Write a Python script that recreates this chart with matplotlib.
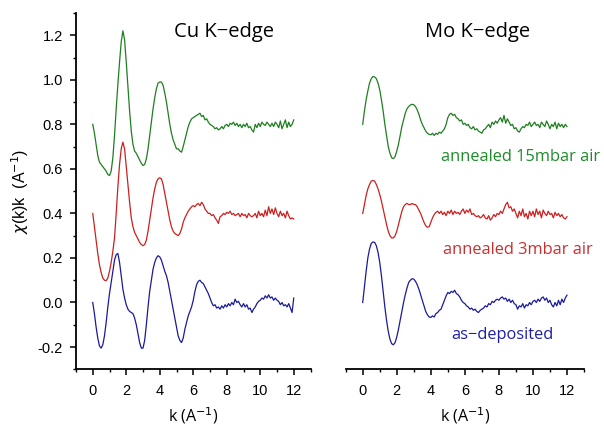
import numpy as np
import matplotlib
matplotlib.use("Agg")
import matplotlib.pyplot as plt
from matplotlib.ticker import MultipleLocator

# k grid (A^-1), 0..12 step 0.1
k = np.round(np.arange(0, 121) * 0.1, 1)

cu_15mbar = [
    0.80, 0.76, 0.71, 0.66, 0.63, 0.62, 0.61, 0.60, 0.59, 0.575,
    0.57, 0.59, 0.65, 0.75, 0.87, 0.98, 1.08, 1.17, 1.22, 1.18,
    1.08, 0.97, 0.86, 0.77, 0.71, 0.68, 0.67, 0.655, 0.64, 0.625,
    0.615, 0.62, 0.645, 0.69, 0.75, 0.81, 0.87, 0.92, 0.96, 0.985,
    0.99, 0.99, 0.975, 0.94, 0.90, 0.85, 0.80, 0.76, 0.73, 0.71,
    0.69, 0.69, 0.68, 0.675, 0.70, 0.73, 0.76, 0.79, 0.81, 0.825,
    0.83, 0.835, 0.84, 0.845, 0.85, 0.835, 0.84, 0.82, 0.825, 0.81,
    0.80, 0.795, 0.79, 0.78, 0.785, 0.775, 0.78, 0.79, 0.78, 0.795,
    0.80, 0.79, 0.805, 0.80, 0.81, 0.795, 0.805, 0.79, 0.80, 0.785,
    0.80, 0.79, 0.805, 0.785, 0.79, 0.775, 0.765, 0.80, 0.785, 0.805,
    0.79, 0.81, 0.80, 0.795, 0.81, 0.80, 0.79, 0.805, 0.79, 0.81,
    0.80, 0.785, 0.815, 0.78, 0.80, 0.82, 0.785, 0.81, 0.79, 0.80,
    0.82]

cu_3mbar = [
    0.40, 0.34, 0.28, 0.22, 0.17, 0.135, 0.11, 0.10, 0.098, 0.11,
    0.14, 0.18, 0.23, 0.29, 0.40, 0.52, 0.62, 0.69, 0.72, 0.69,
    0.61, 0.53, 0.45, 0.38, 0.34, 0.315, 0.30, 0.285, 0.27, 0.26,
    0.255, 0.26, 0.28, 0.32, 0.37, 0.42, 0.47, 0.51, 0.54, 0.555,
    0.56, 0.555, 0.53, 0.49, 0.45, 0.41, 0.37, 0.34, 0.32, 0.31,
    0.305, 0.30, 0.31, 0.33, 0.36, 0.38, 0.395, 0.41, 0.42, 0.43,
    0.435, 0.43, 0.44, 0.445, 0.435, 0.45, 0.44, 0.42, 0.41, 0.40,
    0.40, 0.39, 0.395, 0.38, 0.37, 0.355, 0.385, 0.39, 0.40, 0.395,
    0.405, 0.40, 0.41, 0.395, 0.40, 0.39, 0.395, 0.40, 0.385, 0.40,
    0.39, 0.395, 0.38, 0.40, 0.39, 0.385, 0.39, 0.40, 0.38, 0.41,
    0.39, 0.40, 0.385, 0.415, 0.39, 0.43, 0.40, 0.42, 0.395, 0.425,
    0.40, 0.385, 0.41, 0.39, 0.40, 0.38, 0.41, 0.39, 0.375, 0.38,
    0.375]

cu_asdep = [
    0.0, -0.05, -0.11, -0.16, -0.195, -0.205, -0.19, -0.15, -0.09, -0.02,
    0.04, 0.09, 0.14, 0.19, 0.215, 0.22, 0.18, 0.12, 0.06, 0.02,
    -0.01, -0.03, -0.04, -0.045, -0.05, -0.07, -0.10, -0.14, -0.18, -0.205,
    -0.205, -0.17, -0.10, -0.02, 0.05, 0.10, 0.15, 0.18, 0.20, 0.21,
    0.205, 0.19, 0.165, 0.14, 0.12, 0.09, 0.05, 0.01, -0.03, -0.07,
    -0.11, -0.15, -0.17, -0.18, -0.16, -0.12, -0.09, -0.06, -0.04, -0.02,
    0.01, 0.05, 0.08, 0.095, 0.10, 0.09, 0.085, 0.07, 0.055, 0.04,
    0.02, 0.0, -0.015, -0.01, -0.025, -0.02, -0.03, -0.015, -0.025, -0.01,
    -0.02, -0.005, -0.015, 0.0, -0.01, 0.015, 0.0, 0.005, -0.01, -0.02,
    -0.005, -0.02, -0.01, -0.03, -0.025, -0.045, -0.03, -0.02, -0.005, 0.005,
    0.01, 0.02, 0.015, 0.03, 0.02, 0.035, 0.02, 0.025, 0.01, 0.02,
    0.01, 0.005, -0.01, 0.0, -0.015, -0.01, -0.02, -0.005, -0.025, -0.045,
    0.02]

mo_15mbar = [
    0.80, 0.86, 0.91, 0.95, 0.985, 1.005, 1.015, 1.013, 1.005, 0.985,
    0.955, 0.91, 0.86, 0.80, 0.75, 0.70, 0.67, 0.65, 0.646, 0.655,
    0.68, 0.71, 0.75, 0.79, 0.82, 0.85, 0.87, 0.88, 0.887, 0.89,
    0.888, 0.88, 0.865, 0.845, 0.82, 0.80, 0.785, 0.77, 0.76, 0.755,
    0.753, 0.76, 0.75, 0.76, 0.755, 0.765, 0.76, 0.77, 0.78, 0.80,
    0.83, 0.845, 0.85, 0.84, 0.845, 0.83, 0.825, 0.815, 0.82, 0.80,
    0.805, 0.795, 0.80, 0.785, 0.78, 0.79, 0.775, 0.78, 0.77, 0.765,
    0.76, 0.775, 0.78, 0.79, 0.80, 0.785, 0.81, 0.80, 0.815, 0.805,
    0.82, 0.83, 0.81, 0.84, 0.805, 0.825, 0.81, 0.795, 0.80, 0.78,
    0.785, 0.77, 0.765, 0.78, 0.79, 0.785, 0.80, 0.795, 0.81, 0.79,
    0.80, 0.81, 0.795, 0.80, 0.785, 0.81, 0.80, 0.79, 0.815, 0.80,
    0.78, 0.80, 0.79, 0.81, 0.78, 0.805, 0.79, 0.80, 0.785, 0.80,
    0.79]

mo_3mbar = [
    0.40, 0.44, 0.48, 0.51, 0.53, 0.545, 0.548, 0.545, 0.53, 0.51,
    0.485, 0.455, 0.42, 0.385, 0.35, 0.32, 0.30, 0.29, 0.29, 0.30,
    0.32, 0.35, 0.38, 0.41, 0.43, 0.44, 0.445, 0.44, 0.44, 0.445,
    0.44, 0.44, 0.43, 0.415, 0.40, 0.38, 0.36, 0.345, 0.338, 0.34,
    0.36, 0.38, 0.395, 0.405, 0.41, 0.40, 0.41, 0.395, 0.405, 0.39,
    0.41, 0.40, 0.415, 0.395, 0.41, 0.40, 0.405, 0.395, 0.41, 0.42,
    0.40, 0.415, 0.405, 0.42, 0.395, 0.40, 0.39, 0.385, 0.39, 0.38,
    0.385, 0.395, 0.38, 0.375, 0.39, 0.37, 0.38, 0.395, 0.385, 0.40,
    0.395, 0.41, 0.40, 0.42, 0.44, 0.45, 0.425, 0.43, 0.41, 0.42,
    0.40, 0.38, 0.41, 0.39, 0.42, 0.385, 0.40, 0.375, 0.41, 0.39,
    0.41, 0.385, 0.42, 0.395, 0.41, 0.38, 0.415, 0.40, 0.39, 0.41,
    0.395, 0.40, 0.38, 0.405, 0.39, 0.40, 0.385, 0.395, 0.38, 0.375,
    0.385]

mo_asdep = [
    0.0, 0.07, 0.14, 0.20, 0.24, 0.265, 0.272, 0.27, 0.255, 0.225,
    0.18, 0.12, 0.05, -0.02, -0.08, -0.13, -0.165, -0.185, -0.19, -0.18,
    -0.155, -0.12, -0.08, -0.04, 0.0, 0.035, 0.065, 0.09, 0.10, 0.107,
    0.105, 0.095, 0.08, 0.06, 0.035, 0.01, -0.015, -0.04, -0.055, -0.065,
    -0.067, -0.06, -0.065, -0.05, -0.045, -0.035, -0.03, -0.01, 0.01, 0.03,
    0.045, 0.04, 0.05, 0.045, 0.055, 0.04, 0.035, 0.025, 0.01, 0.0,
    -0.005, -0.015, -0.02, -0.03, -0.025, -0.035, -0.03, -0.04, -0.045, -0.035,
    -0.03, -0.025, -0.015, -0.02, -0.005, -0.01, 0.005, 0.0, 0.01, 0.015,
    0.01, 0.02, 0.025, 0.015, 0.02, 0.005, 0.015, 0.0, 0.01, -0.005,
    -0.01, -0.03, -0.015, -0.02, -0.005, -0.025, -0.01, -0.015, 0.0, -0.01,
    0.005, 0.01, 0.0, 0.015, 0.005, 0.02, 0.025, 0.01, 0.02, 0.0,
    0.01, -0.01, -0.02, 0.0, -0.015, 0.01, -0.01, 0.015, 0.0, 0.02,
    0.033]

panel_titles = ["Cu K\u2212edge", "Mo K\u2212edge"]
series_labels = ["annealed 15mbar air", "annealed 3mbar air", "as\u2212deposited"]
colors = ["#1f7f1f", "#cc2020", "#1a1a9a"]
text_colors = ["#1e8a2a", "#c83030", "#2020a8"]

W, H = 604, 425
fig = plt.figure(figsize=(W / 100, H / 100), dpi=100)

ax1 = fig.add_axes([76 / W, 1 - 369.3 / H, 234.5 / W, 356.3 / H])
ax2 = fig.add_axes([345.7 / W, 1 - 369.3 / H, 238.3 / W, 356.3 / H])

tickfont = "Liberation Sans"
for ax in (ax1, ax2):
    ax.set_xlim(-1, 13)
    ax.set_ylim(-0.3, 1.3)
    for s in ("top", "right"):
        ax.spines[s].set_visible(False)
    ax.spines["bottom"].set_linewidth(1.3)
    ax.spines["left"].set_linewidth(1.3)
    ax.xaxis.set_major_locator(MultipleLocator(2))
    ax.xaxis.set_minor_locator(MultipleLocator(1))
    ax.yaxis.set_major_locator(MultipleLocator(0.2))
    ax.yaxis.set_minor_locator(MultipleLocator(0.1))
    ax.tick_params(which="major", length=4.5, width=1.1, direction="out", pad=5,
                   labelsize=10.5, colors="black")
    ax.tick_params(axis="x", which="major", pad=6)
    ax.tick_params(which="minor", length=2.5, width=1.0, direction="out")
    ax.set_xlabel("k (A$^{-1}$)", fontsize=11.5, family="Open Sans", labelpad=5.5)
    ax.patch.set_alpha(0)

ax1.set_xticks([0, 2, 4, 6, 8, 10, 12])
ax2.set_xticks([0, 2, 4, 6, 8, 10, 12])
ax1.set_yticks([-0.2, 0.0, 0.2, 0.4, 0.6, 0.8, 1.0, 1.2])
ax1.set_yticklabels(["-0.2", "0.0", "0.2", "0.4", "0.6", "0.8", "1.0", "1.2"],
                    family=tickfont, fontsize=10.5)
ax1.set_xticklabels(["0", "2", "4", "6", "8", "10", "12"], family=tickfont, fontsize=10.5)
ax2.set_xticklabels(["0", "2", "4", "6", "8", "10", "12"], family=tickfont, fontsize=10.5)

ax2.spines["left"].set_visible(False)
ax2.tick_params(axis="y", which="both", left=False, labelleft=False)

ax1.set_ylabel("$\\chi$(k)k  (A$^{-1}$)", fontsize=11.5, family="Liberation Sans", labelpad=5)

lw = 0.9
for ax, series in ((ax1, (cu_15mbar, cu_3mbar, cu_asdep)),
                   (ax2, (mo_15mbar, mo_3mbar, mo_asdep))):
    for vals, c in zip(series, colors):
        ax.plot(k, vals, color=c, lw=lw, clip_on=False)

ax1.text(0.63, 0.947, panel_titles[0], transform=ax1.transAxes, ha="center", va="center",
         fontsize=14.5, family="Open Sans")
ax2.text(0.552, 0.947, panel_titles[1], transform=ax2.transAxes, ha="center", va="center",
         fontsize=14.5, family="Open Sans")

ax2.text(4.6, 0.655, series_labels[0], color=text_colors[0], fontsize=11.8, family="Open Sans",
         ha="left", va="center")
ax2.text(4.7, 0.237, series_labels[1], color=text_colors[1], fontsize=11.8, family="Open Sans",
         ha="left", va="center")
ax2.text(5.2, -0.147, series_labels[2], color=text_colors[2], fontsize=11.8, family="Open Sans",
         ha="left", va="center")

fig.savefig("out.png", dpi=100)
